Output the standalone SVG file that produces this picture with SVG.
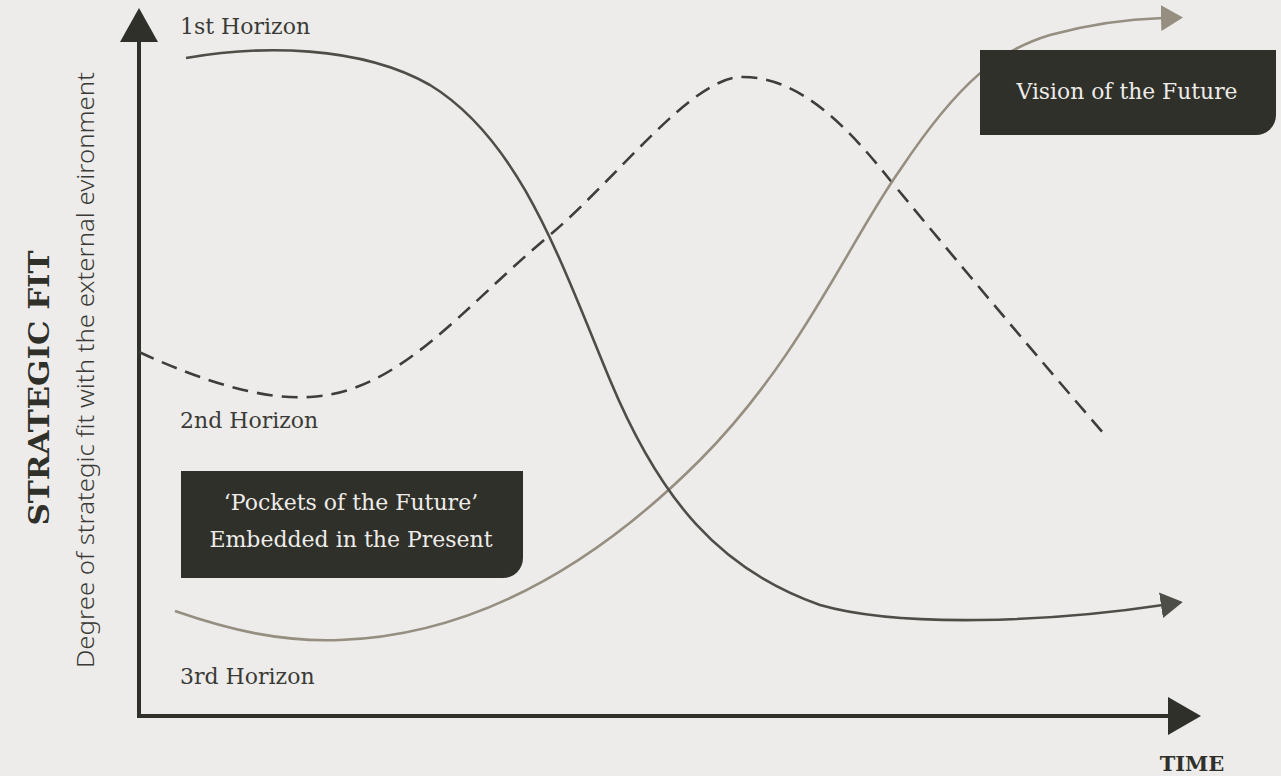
<svg xmlns="http://www.w3.org/2000/svg" width="1281" height="776" viewBox="0 0 1281 776">
  <style>
    .serif { font-family: "DejaVu Serif", "Liberation Serif", serif; }
    .label { font-size: 22px; fill: #3a3a36; }
    .box { fill: #30302b; }
    .boxtext { font-size: 22px; fill: #eeece8; text-anchor: middle; }
    .axis { stroke: #30302b; stroke-width: 4; fill: none; }
    .h1 { stroke: #4e4e49; stroke-width: 2.6; fill: none; }
    .h2 { stroke: #3d3d3a; stroke-width: 2.6; fill: none; stroke-dasharray: 16 9; }
    .h3 { stroke: #968e80; stroke-width: 2.6; fill: none; }
  </style>
  <defs>
    <marker id="arrowDark" viewBox="0 0 22 26" refX="2" refY="13" markerWidth="22" markerHeight="26" markerUnits="userSpaceOnUse" orient="auto">
      <path d="M0,0 L22,13 L0,26 Z" fill="#4e4e49"/>
    </marker>
    <marker id="arrowTan" viewBox="0 0 22 26" refX="2" refY="13" markerWidth="22" markerHeight="26" markerUnits="userSpaceOnUse" orient="auto">
      <path d="M0,0 L22,13 L0,26 Z" fill="#968e80"/>
    </marker>
  </defs>
  <rect width="1281" height="776" fill="#edecea"/>

  <!-- axes -->
  <g id="axes">
    <path class="axis" d="M139,36 V716 H1170"/>
    <path d="M120,42 L139,8 L158,42 Z" fill="#30302b"/>
    <path d="M1168,697 L1201,716 L1168,735 Z" fill="#30302b"/>
    <text class="serif" x="1192" y="771" font-size="21" style="font-weight:700" fill="#30302b" text-anchor="middle">TIME</text>
    <text class="serif" transform="translate(49,388) rotate(-90)" font-size="28" style="font-weight:700" fill="#30302b" text-anchor="middle" textLength="275" lengthAdjust="spacingAndGlyphs">STRATEGIC FIT</text>
    <text transform="translate(94,370) rotate(-90)" font-family="'Noto Sans', 'Open Sans', sans-serif" style="font-weight:300" font-size="24" fill="#3a3a36" text-anchor="middle" textLength="596" lengthAdjust="spacingAndGlyphs">Degree of strategic fit with the external evironment</text>
  </g>

  <!-- horizon curves -->
  <g id="connectors">
    <path id="horizon2" class="h2" d="M139,352 C200,380 260,400 310,397 C400,392 460,310 550,235 C620,175 690,80 740,77 C800,75 850,130 890,180 C960,265 1040,360 1105,435"/>
    <path id="horizon3" class="h3" marker-end="url(#arrowTan)" d="M175,611 C230,630 280,642 340,640 C480,635 600,560 700,460 C800,360 850,240 900,170 C960,80 1000,50 1050,35 C1090,24 1130,19 1163,18"/>
    <path id="horizon1" class="h1" marker-end="url(#arrowDark)" d="M186,58 C260,45 360,45 430,85 C520,140 560,260 610,380 C660,500 720,570 820,605 C900,628 1050,622 1163,605"/>
  </g>

  <g id="label-h1"><text class="serif label" x="180" y="34">1st Horizon</text></g>
  <g id="label-h2"><text class="serif label" x="180" y="428">2nd Horizon</text></g>
  <g id="label-h3"><text class="serif label" x="180" y="684">3rd Horizon</text></g>

  <g id="vision">
    <path class="box" d="M980,50 H1276 V115 A20,20 0 0 1 1256,135 H980 Z"/>
    <text class="serif boxtext" x="1127" y="99" style="font-size:21.5px" textLength="221" lengthAdjust="spacingAndGlyphs">Vision of the Future</text>
  </g>

  <g id="pockets">
    <path class="box" d="M181,471 H523 V558 A20,20 0 0 1 503,578 H181 Z"/>
    <text class="serif boxtext" x="351" y="510">‘Pockets of the Future’</text>
    <text class="serif boxtext" x="351" y="547">Embedded in the Present</text>
  </g>
</svg>
